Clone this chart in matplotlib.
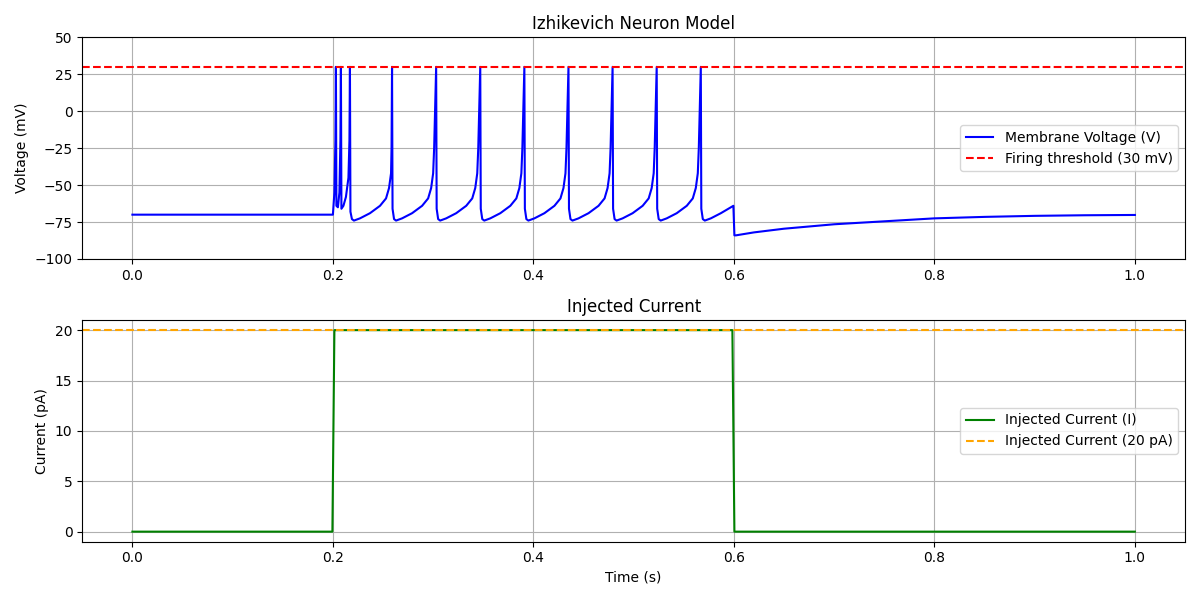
import matplotlib
matplotlib.use("Agg")
import matplotlib.pyplot as plt

# membrane voltage trace (s, mV)
time_v = [0.0, 0.2, 0.2015, 0.2025, 0.203, 0.2035, 0.205, 0.2065, 0.2075, 0.208, 0.2085,
          0.2105, 0.213, 0.2155, 0.2165, 0.217, 0.2175, 0.219, 0.221,
          0.227, 0.237, 0.247, 0.253, 0.256, 0.258, 0.2585, 0.259,
          0.2595, 0.261, 0.263, 0.269, 0.279, 0.289, 0.295, 0.298, 0.300, 0.301, 0.303,
          0.3035, 0.305, 0.307, 0.313, 0.323, 0.333, 0.339, 0.342, 0.344, 0.345, 0.347,
          0.3475, 0.349, 0.351, 0.357, 0.367, 0.377, 0.383, 0.386, 0.388, 0.389, 0.391,
          0.3915, 0.393, 0.395, 0.401, 0.411, 0.421, 0.427, 0.430, 0.432, 0.433, 0.435,
          0.4355, 0.437, 0.439, 0.445, 0.455, 0.465, 0.471, 0.474, 0.476, 0.477, 0.479,
          0.4795, 0.481, 0.483, 0.489, 0.499, 0.509, 0.515, 0.518, 0.520, 0.521, 0.523,
          0.5235, 0.525, 0.527, 0.533, 0.543, 0.553, 0.559, 0.562, 0.564, 0.565, 0.567,
          0.5675, 0.569, 0.571, 0.577, 0.587, 0.5995, 0.6005, 0.602, 0.62, 0.65, 0.7,
          0.75, 0.8, 0.85, 0.9, 0.95, 1.0]
voltage = [-70, -70, -55, -20, 30, -64, -65, -55, -20, 30, -66,
           -64, -58, -45, -20, 30, -68, -73, -74,
           -72.5, -69, -64, -59, -52, -42, -25, 30,
           -66, -73, -74, -72.5, -69, -64, -59, -52, -42, -25, 30,
           -66, -73, -74, -72.5, -69, -64, -59, -52, -42, -25, 30,
           -66, -73, -74, -72.5, -69, -64, -59, -52, -42, -25, 30,
           -66, -73, -74, -72.5, -69, -64, -59, -52, -42, -25, 30,
           -66, -73, -74, -72.5, -69, -64, -59, -52, -42, -25, 30,
           -66, -73, -74, -72.5, -69, -64, -59, -52, -42, -25, 30,
           -66, -73, -74, -72.5, -69, -64, -59, -52, -42, -25, 30,
           -66, -73, -74, -72.5, -69, -64, -84, -84, -82, -79.5, -76.5,
           -74.5, -72.5, -71.5, -70.8, -70.4, -70.2]

# injected current (s, pA)
time_i = [0.0, 0.1995, 0.2015, 0.5985, 0.6005, 1.0]
current = [0, 0, 20, 20, 0, 0]

threshold = 30
i_level = 20

fig, (ax1, ax2) = plt.subplots(2, 1, figsize=(12, 6), dpi=100)

ax1.plot(time_v, voltage, color="blue", label="Membrane Voltage (V)")
ax1.axhline(threshold, color="red", linestyle="--", label="Firing threshold (30 mV)")
ax1.set_ylim(-100, 50)
ax1.set_title("Izhikevich Neuron Model")
ax1.set_ylabel("Voltage (mV)")
ax1.legend(loc="center right")
ax1.grid(True)

ax2.plot(time_i, current, color="green", label="Injected Current (I)")
ax2.axhline(i_level, color="orange", linestyle="--", label="Injected Current (20 pA)")
ax2.set_title("Injected Current")
ax2.set_xlabel("Time (s)")
ax2.set_ylabel("Current (pA)")
ax2.legend(loc="center right")
ax2.grid(True)

plt.tight_layout()
plt.savefig("out.png")
